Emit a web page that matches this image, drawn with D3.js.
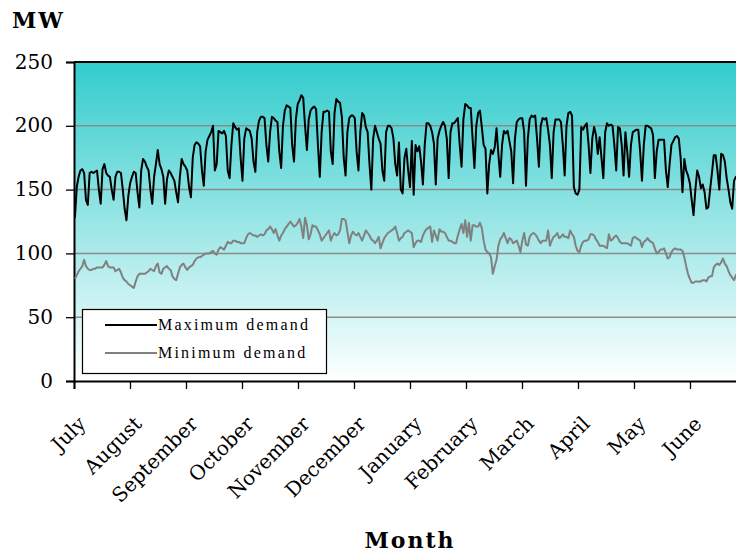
<!DOCTYPE html>
<html lang="en">
<meta charset="utf-8"/>
<head>
<style>
  body { margin: 0; background: #FFFFFF; }
  svg { display: block; }
  .tick-y { font-family: "DejaVu Serif", serif; font-size: 20px; fill: #000; }
  .tick-x { font-family: "DejaVu Serif", serif; font-size: 20px; fill: #000; }
  .title { font-family: "DejaVu Serif", serif; font-weight: bold; font-size: 22px; fill: #000; }
  .legend { font-family: "Liberation Serif", serif; font-size: 16px; letter-spacing: 2.2px; fill: #000; }
</style>
</head>
<body>
<svg id="chart" width="736" height="556"></svg>

<script src="https://d3js.org/d3.v7.min.js"></script>
<script>
// month labels along the x axis (financial year, July to June)
let months = ["July", "August", "September", "October", "November", "December",
              "January", "February", "March", "April", "May", "June"]
let yTicks = [0, 50, 100, 150, 200, 250]

// daily maximum demand (MW), one row per week (Sun..Sat)
let maxDemand = [
  128, 152, 160, 165, 166, 163, 142,
  138, 163, 164, 163, 164, 165, 150,
  139, 166, 170, 163, 161, 160, 150,
  142, 160, 164, 164, 163, 150, 135,
  126, 145, 155, 160, 164, 163, 148,
  136, 165, 174, 172, 168, 165, 150,
  139, 160, 170, 181, 170, 166, 160,
  139, 158, 165, 163, 160, 157, 148,
  140, 160, 174, 170, 168, 165, 152,
  144, 175, 185, 187, 186, 184, 165,
  153, 180, 189, 192, 195, 200, 165,
  170, 196, 195, 194, 196, 192, 165,
  159, 185, 202, 199, 197, 198, 175,
  157, 190, 198, 197, 196, 190, 172,
  164, 195, 204, 207, 207, 206, 185,
  172, 195, 207, 206, 204, 203, 180,
  167, 200, 212, 216, 215, 214, 185,
  172, 205, 217, 220, 224, 222, 200,
  181, 205, 212, 214, 215, 213, 185,
  160, 195, 211, 211, 212, 211, 180,
  170, 210, 221, 219, 218, 207, 175,
  161, 195, 206, 208, 208, 206, 180,
  165, 195, 210, 208, 199, 195, 170,
  150, 190, 200, 195, 190, 186, 165,
  157, 195, 200, 200, 198, 190, 170,
  161, 187, 150, 147, 175, 182, 165,
  152, 188, 146, 185, 180, 184, 172,
  154, 185, 202, 202, 200, 195, 186,
  154, 190, 196, 200, 203, 200, 190,
  159, 195, 202, 202, 204, 206, 185,
  168, 205, 217, 216, 214, 214, 190,
  167, 200, 210, 212, 199, 185, 182,
  147, 170, 181, 178, 183, 198, 178,
  160, 185, 196, 194, 196, 188, 180,
  155, 190, 203, 205, 206, 206, 195,
  153, 190, 205, 208, 207, 208, 190,
  168, 200, 206, 205, 206, 197, 185,
  159, 195, 205, 205, 205, 203, 185,
  161, 200, 210, 211, 208, 152, 147,
  146, 150, 199, 197, 200, 202, 185,
  163, 190, 199, 193, 178, 191, 175,
  159, 195, 202, 200, 201, 200, 185,
  165, 199, 198, 185, 161, 195, 180,
  160, 185, 195, 196, 197, 197, 180,
  157, 185, 200, 200, 199, 198, 193,
  159, 180, 189, 189, 189, 189, 165,
  152, 170, 185, 188, 191, 192, 190,
  175, 148, 174, 165, 161, 155, 142,
  130, 150, 165, 160, 151, 154, 148,
  135, 136, 150, 163, 177, 177, 165,
  150, 178, 177, 172, 159, 150, 140,
  135, 157, 160, 160, 158, 157, 150,
  140
]

// daily minimum demand (MW), ten days per row
let minDemand = [
  80, 83, 86, 88, 90, 95, 90, 88, 87, 87,
  88, 88, 89, 89, 89, 89, 91, 94, 90, 89,
  89, 89, 86, 87, 88, 85, 81, 79, 78, 76,
  75, 74, 73, 78, 82, 84, 84, 84, 84, 85,
  86, 88, 87, 86, 90, 92, 85, 84, 88, 89,
  90, 88, 87, 82, 80, 79, 84, 89, 91, 92,
  89, 87, 89, 90, 91, 94, 96, 97, 97, 98,
  99, 100, 100, 100, 101, 102, 100, 99, 103, 105,
  104, 103, 106, 109, 108, 108, 110, 110, 109, 109,
  108, 108, 108, 112, 115, 116, 115, 114, 114, 113,
  114, 115, 114, 115, 118, 119, 121, 119, 116, 119,
  114, 110, 114, 116, 119, 121, 123, 125, 123, 121,
  122, 124, 127, 121, 112, 128, 122, 111, 115, 122,
  121, 121, 118, 115, 110, 112, 114, 116, 118, 110,
  114, 116, 114, 115, 118, 127, 127, 126, 117, 108,
  114, 117, 115, 114, 116, 113, 110, 114, 118, 116,
  114, 111, 110, 108, 110, 113, 104, 108, 112, 114,
  116, 117, 118, 119, 121, 116, 110, 112, 113, 116,
  117, 118, 117, 116, 105, 108, 110, 110, 109, 114,
  117, 119, 120, 121, 109, 118, 114, 110, 119, 117,
  117, 116, 113, 110, 110, 109, 108, 108, 114, 119,
  123, 116, 126, 113, 124, 110, 122, 122, 121, 121,
  124, 120, 110, 103, 101, 100, 97, 84, 90, 95,
  106, 111, 113, 116, 112, 108, 112, 111, 108, 109,
  110, 106, 101, 110, 116, 107, 106, 113, 115, 116,
  115, 113, 110, 108, 110, 110, 110, 118, 106, 110,
  113, 114, 116, 112, 113, 115, 113, 113, 112, 118,
  115, 113, 106, 102, 101, 106, 109, 110, 110, 111,
  115, 115, 114, 111, 109, 106, 106, 106, 105, 104,
  115, 110, 111, 113, 114, 112, 109, 108, 108, 108,
  108, 107, 106, 112, 113, 112, 111, 110, 105, 109,
  110, 112, 110, 109, 108, 104, 100, 101, 103, 103,
  104, 100, 96, 97, 101, 103, 104, 103, 103, 103,
  102, 97, 90, 84, 80, 77, 77, 78, 78, 78,
  78, 79, 79, 78, 81, 82, 82, 89, 91, 92,
  91, 93, 96, 92, 90, 86, 83, 81, 79, 83,
  84, 85, 85, 86, 86
]

let svg = d3.select("#chart")
let plotLeft = 74, plotRight = 746, plotTop = 62, plotBottom = 381
let days = maxDemand.length

let xScale = d3.scaleLinear().domain([0, days]).range([plotLeft, plotRight])
let yScale = d3.scaleLinear().domain([0, 250]).range([plotBottom, plotTop])

// background gradient, teal at the top fading to white
let grad = svg.append("defs").append("linearGradient")
  .attr("id", "bg").attr("x1", 0).attr("y1", 0).attr("x2", 0).attr("y2", 1)
grad.append("stop").attr("offset", "0%").attr("stop-color", "#33CCCC")
grad.append("stop").attr("offset", "100%").attr("stop-color", "#FFFFFF")

svg.append("rect")
  .attr("x", plotLeft).attr("y", plotTop)
  .attr("width", plotRight - plotLeft).attr("height", plotBottom - plotTop)
  .attr("fill", "url(#bg)")

// horizontal gridlines
svg.append("g")
  .selectAll("line")
  .data(yTicks.filter(t => t > 0 && t < 250))
  .enter().append("line")
  .attr("x1", plotLeft).attr("x2", plotRight)
  .attr("y1", d => yScale(d)).attr("y2", d => yScale(d))
  .attr("stroke", "#8c8c8c").attr("stroke-width", 1.5)

// y axis
let yAxis = svg.append("g")
  .attr("transform", "translate(" + plotLeft + ",0)")
  .call(d3.axisLeft(yScale).tickValues(yTicks).tickSize(8).tickPadding(13))
yAxis.select(".domain").attr("stroke", "#000").attr("stroke-width", 2)
yAxis.selectAll(".tick line").attr("stroke", "#000").attr("stroke-width", 1.3)
yAxis.selectAll(".tick text").attr("class", "tick-y").attr("font-family", null).attr("font-size", null)
  .attr("dy", "0.3em")

// x axis, one tick at the start of each month
let monthStarts = months.map((m, i) => i * days / 12)
let xAxis = svg.append("g")
  .attr("transform", "translate(0," + plotBottom + ")")
  .call(d3.axisBottom(xScale).tickValues(monthStarts).tickSize(8).tickFormat(""))
xAxis.select(".domain").attr("stroke", "#000").attr("stroke-width", 2)
xAxis.selectAll(".tick line").attr("stroke", "#000").attr("stroke-width", 1.3)

svg.append("g")
  .selectAll("text")
  .data(months)
  .enter().append("text")
  .attr("class", "tick-x")
  .attr("text-anchor", "end")
  .attr("transform", (d, i) => "translate(" + (xScale(monthStarts[i]) + 13) + ",425) rotate(-45)")
  .text(d => d)

// top border of plot area
svg.append("line")
  .attr("x1", plotLeft).attr("x2", plotRight).attr("y1", plotTop).attr("y2", plotTop)
  .attr("stroke", "#000").attr("stroke-width", 2)

// series lines
let line = d3.line()
  .x((d, i) => xScale(i + 0.5))
  .y(d => yScale(d))

svg.append("path")
  .datum(minDemand)
  .attr("d", line)
  .attr("fill", "none").attr("stroke", "#808080").attr("stroke-width", 2)
  .attr("stroke-linejoin", "round")

svg.append("path")
  .datum(maxDemand)
  .attr("d", line)
  .attr("fill", "none").attr("stroke", "#000000").attr("stroke-width", 2)
  .attr("stroke-linejoin", "round")

// legend
let legend = svg.append("g")
legend.append("rect")
  .attr("x", 82.5).attr("y", 309.5).attr("width", 244).attr("height", 64)
  .attr("fill", "#FFFFFF").attr("stroke", "#000").attr("stroke-width", 1.2)
let legendItems = [
  { name: "Maximum demand", color: "#000000" },
  { name: "Minimum demand", color: "#808080" }
]
legendItems.forEach((item, i) => {
  let yy = 325 + i * 28
  legend.append("line")
    .attr("x1", 105).attr("x2", 157).attr("y1", yy).attr("y2", yy)
    .attr("stroke", item.color).attr("stroke-width", 2)
  legend.append("text")
    .attr("class", "legend")
    .attr("x", 158).attr("y", yy + 5)
    .text(item.name)
})

// axis titles
svg.append("text").attr("class", "title")
  .attr("x", 12).attr("y", 28)
  .attr("letter-spacing", "2px")
  .text("MW")

svg.append("text").attr("class", "title")
  .attr("x", 410).attr("y", 548)
  .attr("text-anchor", "middle")
  .attr("letter-spacing", "2px")
  .text("Month")
</script>
</body>
</html>
